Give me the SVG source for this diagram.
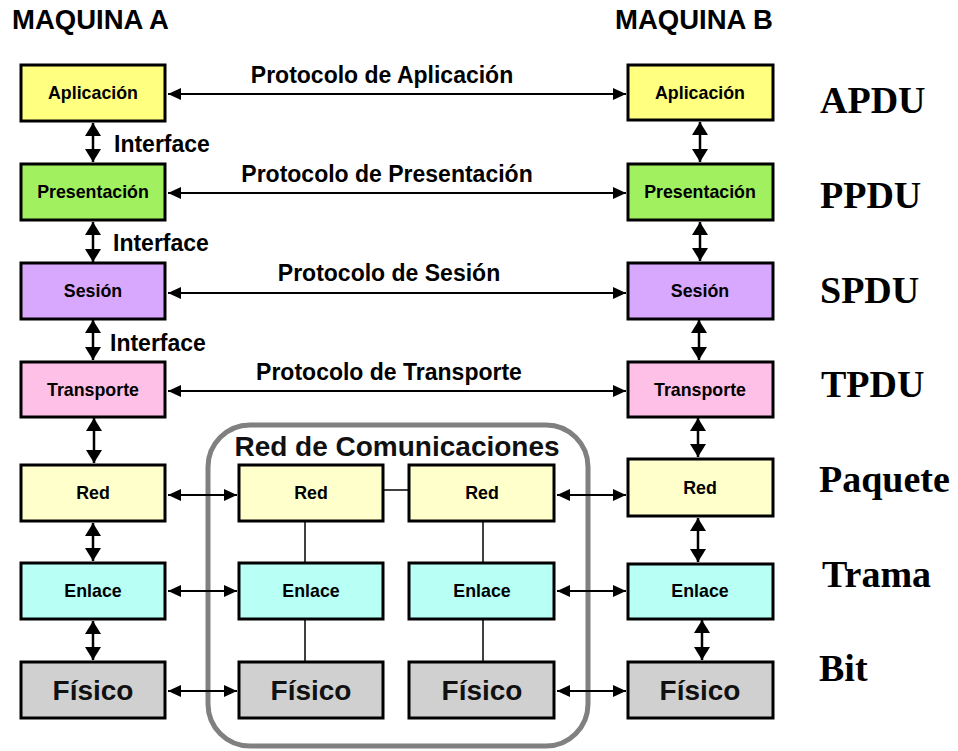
<svg xmlns="http://www.w3.org/2000/svg" width="958" height="751" viewBox="0 0 958 751">
<defs>
<style>
.box{stroke:#000;stroke-width:3}
.lbl{font-family:"Liberation Sans",Arial,sans-serif;font-weight:bold;font-size:17.8px;text-anchor:middle;fill:#000}
.big{font-family:"Liberation Sans",Arial,sans-serif;font-weight:bold;font-size:28px;text-anchor:middle;fill:#111}
.hdr{font-family:"Liberation Sans",Arial,sans-serif;font-weight:bold;font-size:23px;fill:#000}
.pdu{font-family:"Liberation Serif","Times New Roman",serif;font-weight:bold;font-size:38px;fill:#000}
.ap{fill:#FFFF80}.pr{fill:#A0F060}.se{fill:#D8A8FF}.tr{fill:#FFC0E8}.rd{fill:#FFFFCC}.en{fill:#B8FFF6}.fi{fill:#D0D0D0}
.h{stroke:#000;stroke-width:2;fill:none;marker-start:url(#ah);marker-end:url(#ah)}
.v{stroke:#000;stroke-width:2.5;fill:none;marker-start:url(#av);marker-end:url(#av)}
.ln{stroke:#000;stroke-width:1.5;fill:none}
</style>
<marker id="ah" markerUnits="userSpaceOnUse" markerWidth="14" markerHeight="12" refX="13" refY="6" orient="auto-start-reverse" viewBox="0 0 14 12">
<path d="M0,0 L13,6 L0,12 Z" fill="#000"/>
</marker>
<marker id="av" markerUnits="userSpaceOnUse" markerWidth="14" markerHeight="16" refX="13" refY="8" orient="auto-start-reverse" viewBox="0 0 14 16">
<path d="M0,0 L13,8 L0,16 Z" fill="#000"/>
</marker>
</defs>
<rect width="958" height="751" fill="#fff"/>

<text class="hdr" x="12" y="29" style="font-size:27.5px">MAQUINA A</text>
<text class="hdr" x="615" y="29" style="font-size:27.5px">MAQUINA B</text>

<g id="red-comunicaciones">
<rect x="208" y="425" width="380" height="321" rx="42" ry="42" fill="none" stroke="#808080" stroke-width="5"/>
<text class="big" x="397" y="456">Red de Comunicaciones</text>
</g>

<g id="connectors">
<line class="h" x1="168" y1="94" x2="626" y2="94"/>
<line class="h" x1="168" y1="193" x2="626" y2="193"/>
<line class="h" x1="168" y1="293" x2="626" y2="293"/>
<line class="h" x1="168" y1="391" x2="626" y2="391"/>
<line class="h" x1="168" y1="495" x2="237" y2="495"/>
<line class="h" x1="168" y1="591" x2="237" y2="591"/>
<line class="h" x1="168" y1="691" x2="237" y2="691"/>
<line class="h" x1="557" y1="495" x2="626" y2="495"/>
<line class="h" x1="557" y1="591" x2="626" y2="591"/>
<line class="h" x1="557" y1="691" x2="626" y2="691"/>
<line class="v" x1="93" y1="123" x2="93" y2="162"/>
<line class="v" x1="93" y1="222" x2="93" y2="262"/>
<line class="v" x1="93" y1="320" x2="93" y2="360"/>
<line class="v" x1="94" y1="418" x2="94" y2="463"/>
<line class="v" x1="93" y1="523" x2="93" y2="561"/>
<line class="v" x1="93" y1="621" x2="93" y2="660"/>
<line class="v" x1="700" y1="122" x2="700" y2="162"/>
<line class="v" x1="700" y1="222" x2="700" y2="261"/>
<line class="v" x1="699" y1="320" x2="699" y2="360"/>
<line class="v" x1="698" y1="418" x2="698" y2="457"/>
<line class="v" x1="698" y1="518" x2="698" y2="562"/>
<line class="v" x1="702" y1="620" x2="702" y2="660"/>
<line class="ln" x1="384" y1="490" x2="408" y2="490"/>
<line class="ln" x1="305" y1="522" x2="305" y2="562"/>
<line class="ln" x1="305" y1="620" x2="305" y2="661"/>
<line class="ln" x1="483" y1="522" x2="483" y2="562"/>
<line class="ln" x1="483" y1="620" x2="483" y2="661"/>
</g>

<g id="labels">
<text class="hdr" x="382" y="83" text-anchor="middle">Protocolo de Aplicación</text>
<text class="hdr" x="387" y="182" text-anchor="middle">Protocolo de Presentación</text>
<text class="hdr" x="389" y="281" text-anchor="middle">Protocolo de Sesión</text>
<text class="hdr" x="389" y="380" text-anchor="middle">Protocolo de Transporte</text>
<text class="hdr" x="114" y="152">Interface</text>
<text class="hdr" x="113" y="251">Interface</text>
<text class="hdr" x="110" y="351">Interface</text>
</g>

<g id="A-aplicacion"><rect class="box ap" x="21" y="65" width="144" height="56"/><text class="lbl" x="93" y="99">Aplicación</text></g>
<g id="A-presentacion"><rect class="box pr" x="21" y="164" width="144" height="56"/><text class="lbl" x="93" y="198">Presentación</text></g>
<g id="A-sesion"><rect class="box se" x="21" y="263" width="144" height="56"/><text class="lbl" x="93" y="297">Sesión</text></g>
<g id="A-transporte"><rect class="box tr" x="21" y="362" width="144" height="55"/><text class="lbl" x="93" y="396">Transporte</text></g>
<g id="A-red"><rect class="box rd" x="21" y="465" width="144" height="56"/><text class="lbl" x="93" y="499">Red</text></g>
<g id="A-enlace"><rect class="box en" x="21" y="563" width="144" height="56"/><text class="lbl" x="93" y="597">Enlace</text></g>
<g id="A-fisico"><rect class="box fi" x="21" y="662" width="144" height="56"/><text class="big" x="93" y="700">Físico</text></g>

<g id="N1-red"><rect class="box rd" x="239" y="465" width="144" height="56"/><text class="lbl" x="311" y="499">Red</text></g>
<g id="N1-enlace"><rect class="box en" x="239" y="563" width="144" height="56"/><text class="lbl" x="311" y="597">Enlace</text></g>
<g id="N1-fisico"><rect class="box fi" x="239" y="662" width="144" height="56"/><text class="big" x="311" y="700">Físico</text></g>

<g id="N2-red"><rect class="box rd" x="409" y="465" width="145" height="56"/><text class="lbl" x="482" y="499">Red</text></g>
<g id="N2-enlace"><rect class="box en" x="409" y="563" width="145" height="56"/><text class="lbl" x="482" y="597">Enlace</text></g>
<g id="N2-fisico"><rect class="box fi" x="409" y="662" width="145" height="56"/><text class="big" x="482" y="700">Físico</text></g>

<g id="B-aplicacion"><rect class="box ap" x="628" y="65" width="145" height="55"/><text class="lbl" x="700" y="99">Aplicación</text></g>
<g id="B-presentacion"><rect class="box pr" x="628" y="164" width="145" height="56"/><text class="lbl" x="700" y="198">Presentación</text></g>
<g id="B-sesion"><rect class="box se" x="628" y="263" width="145" height="56"/><text class="lbl" x="700" y="297">Sesión</text></g>
<g id="B-transporte"><rect class="box tr" x="628" y="362" width="145" height="55"/><text class="lbl" x="700" y="396">Transporte</text></g>
<g id="B-red"><rect class="box rd" x="628" y="459" width="145" height="57"/><text class="lbl" x="700" y="494">Red</text></g>
<g id="B-enlace"><rect class="box en" x="628" y="564" width="145" height="55"/><text class="lbl" x="700" y="597">Enlace</text></g>
<g id="B-fisico"><rect class="box fi" x="628" y="662" width="145" height="56"/><text class="big" x="700" y="700">Físico</text></g>

<g id="pdu-labels">
<text class="pdu" x="820" y="113">APDU</text>
<text class="pdu" x="820" y="208">PPDU</text>
<text class="pdu" x="820" y="303">SPDU</text>
<text class="pdu" x="821" y="397">TPDU</text>
<text class="pdu" x="819" y="492">Paquete</text>
<text class="pdu" x="822" y="587">Trama</text>
<text class="pdu" x="819" y="681">Bit</text>
</g>
</svg>
